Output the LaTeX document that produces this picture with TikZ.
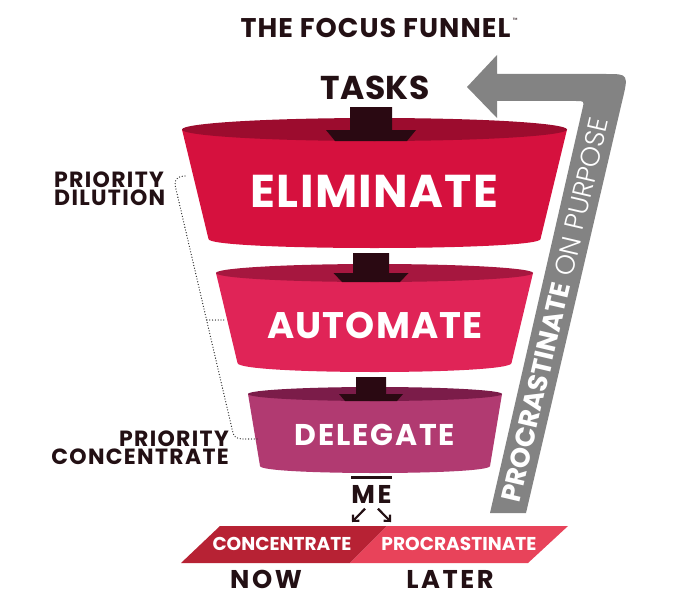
\documentclass[tikz,border=0pt]{standalone}
\usepackage{fontspec}
\setmainfont{Poppins}
\newfontfamily\lightfont{Poppins Light}
\usetikzlibrary{arrows.meta}
\definecolor{inkdark}{HTML}{231014}
\definecolor{elimfront}{HTML}{D6113E}
\definecolor{elimtop}{HTML}{9C0C2E}
\definecolor{autofront}{HTML}{E02457}
\definecolor{autotop}{HTML}{A6173F}
\definecolor{delefront}{HTML}{B13A71}
\definecolor{deletop}{HTML}{7B1C49}
\definecolor{stemfill}{HTML}{2A0912}
\definecolor{nowred}{HTML}{B72234}
\definecolor{laterred}{HTML}{E8435A}
\definecolor{loopgray}{HTML}{838383}
\newcommand{\fsz}[1]{\fontsize{#1}{#1}\selectfont}
% one layer of the funnel: centre x, top y, top rx, top ry, bottom y, bottom rx, sag, front, rim
\newcommand{\funnellayer}[9]{%
  \fill[#8] ({#1-#3},#2) -- ({#1-#6},#5)
    .. controls ({#1-#6},{#5+4/3*#7}) and ({#1+#6},{#5+4/3*#7}) .. ({#1+#6},#5)
    -- ({#1+#3},#2) -- cycle;
  \fill[#9] (#1,#2) ellipse [x radius=#3, y radius=#4];
}
% block arrow dropping into a layer: centre x, top y, join y, bottom y, stem, head, bottom half
\newcommand{\dropin}[7]{%
  \fill[stemfill] ({#1-#5},#2) -- ({#1+#5},#2) -- ({#1+#5},#3) -- ({#1+#6},#3)
    -- ({#1+#7},#4) -- ({#1-#7},#4) -- ({#1-#6},#3) -- ({#1-#5},#3) -- cycle;
}
\tikzset{
  darklabel/.style 2 args={text=inkdark, inner sep=0pt, font=\bfseries\fsz{#1}\addfontfeature{LetterSpace=#2}},
  layerlabel/.style 2 args={text=white, inner sep=0pt, font=\bfseries\fsz{#1}\addfontfeature{LetterSpace=#2}},
  bracketdots/.style={draw=black!85, line width=1.3pt, line cap=round, dash pattern=on 0pt off 2.8pt},
  mearrow/.style={draw=inkdark, line width=2.2pt, -{Straight Barb[length=4.5pt,width=9pt]}}
}

\begin{document}
\begin{tikzpicture}[x=1pt,y=-1pt]
\useasboundingbox (0,0) rectangle (700,599);

\node[darklabel={27}{4}] (title) at (375.5,27.5) {THE FOCUS FUNNEL};
\node[text=inkdark, inner sep=0pt, font=\fsz{6}, anchor=north west] (tm) at ([xshift=2pt]title.north east) {™};
\node[darklabel={33}{1}] (tasks) at (375,87.5) {TASKS};

% procrastinate loop
\fill[loopgray] (490,513) -- (526,513) -- (621.8,102.6) .. controls (628.7,74) .. (606,74)
  -- (497,74) -- (497,55) -- (467,87) -- (497,118) -- (497,101) -- (576,101)
  .. controls (584.3,101) .. (582.5,108.5) -- cycle;
\node[text=white, inner sep=0pt, font=\fsz{27}, rotate=76.9] (loop) at (555,310)
  {{\bfseries PROCRASTINATE} {\lightfont ON PURPOSE}};

% the funnel
\funnellayer{374.5}{129.5}{192.5}{11.5}{239}{166}{9}{elimfront}{elimtop}
\dropin{371}{107}{130}{141}{21}{45}{36}
\funnellayer{374.5}{273}{158.5}{9}{363}{137}{9}{autofront}{autotop}
\dropin{371}{253}{273}{282}{18}{37.5}{29}
\funnellayer{375}{394}{127}{7}{466}{115}{7}{delefront}{deletop}
\dropin{371}{377}{394}{401}{15}{32}{26}

\node[layerlabel={46}{3}] (elim) at (374.5,191) {ELIMINATE};
\node[layerlabel={37}{3}] (auto) at (375,325) {AUTOMATE};
\node[layerlabel={30}{6}] (deleg) at (375,435) {DELEGATE};

% priority side
\node[darklabel={22}{6}, align=left, anchor=west] (dilution) at (54,188.5) {PRIORITY\\[-4pt]DILUTION};
\node[darklabel={22}{6}, align=right, anchor=east] (focus) at (229,448) {PRIORITY\\[-4pt]CONCENTRATE};
\coordinate (dtop) at (185,176);
\coordinate (dmid) at (224,320);
\coordinate (dbot) at (258,439);
\draw[bracketdots] (dtop) .. controls (178,176) and (175,179) .. (175,185) -- (233,433)
  .. controls (234,437) and (237,439) .. (243,439) -- (dbot);
\draw[bracketdots] (207,320) -- (dmid);

% me and the split
\fill[inkdark] (351,475.5) rectangle (392,478.5);
\node[darklabel={25.7}{10}] (me) at (371.5,494) {ME};
\coordinate (meleft) at (352,522);
\coordinate (meright) at (391,522);
\draw[mearrow] ([xshift=-6.5pt,yshift=-5.5pt]me.south) -- (meleft);
\draw[mearrow] ([xshift=6.5pt,yshift=-5.5pt]me.south) -- (meright);

\fill[nowred] (181,563) -- (220,526) -- (387,526) -- (350,563) -- cycle;
\fill[laterred] (350,563) -- (387,526) -- (568,526) -- (528,563) -- cycle;
\node[layerlabel={18.6}{0}] (conc) at (282,543.5) {CONCENTRATE};
\node[layerlabel={18.6}{0}] (procr) at (459,543.5) {PROCRASTINATE};
\node[darklabel={25.7}{10}] (now) at (266,579) {NOW};
\node[darklabel={25.7}{10}] (later) at (450,579) {LATER};
\end{tikzpicture}
\end{document}
